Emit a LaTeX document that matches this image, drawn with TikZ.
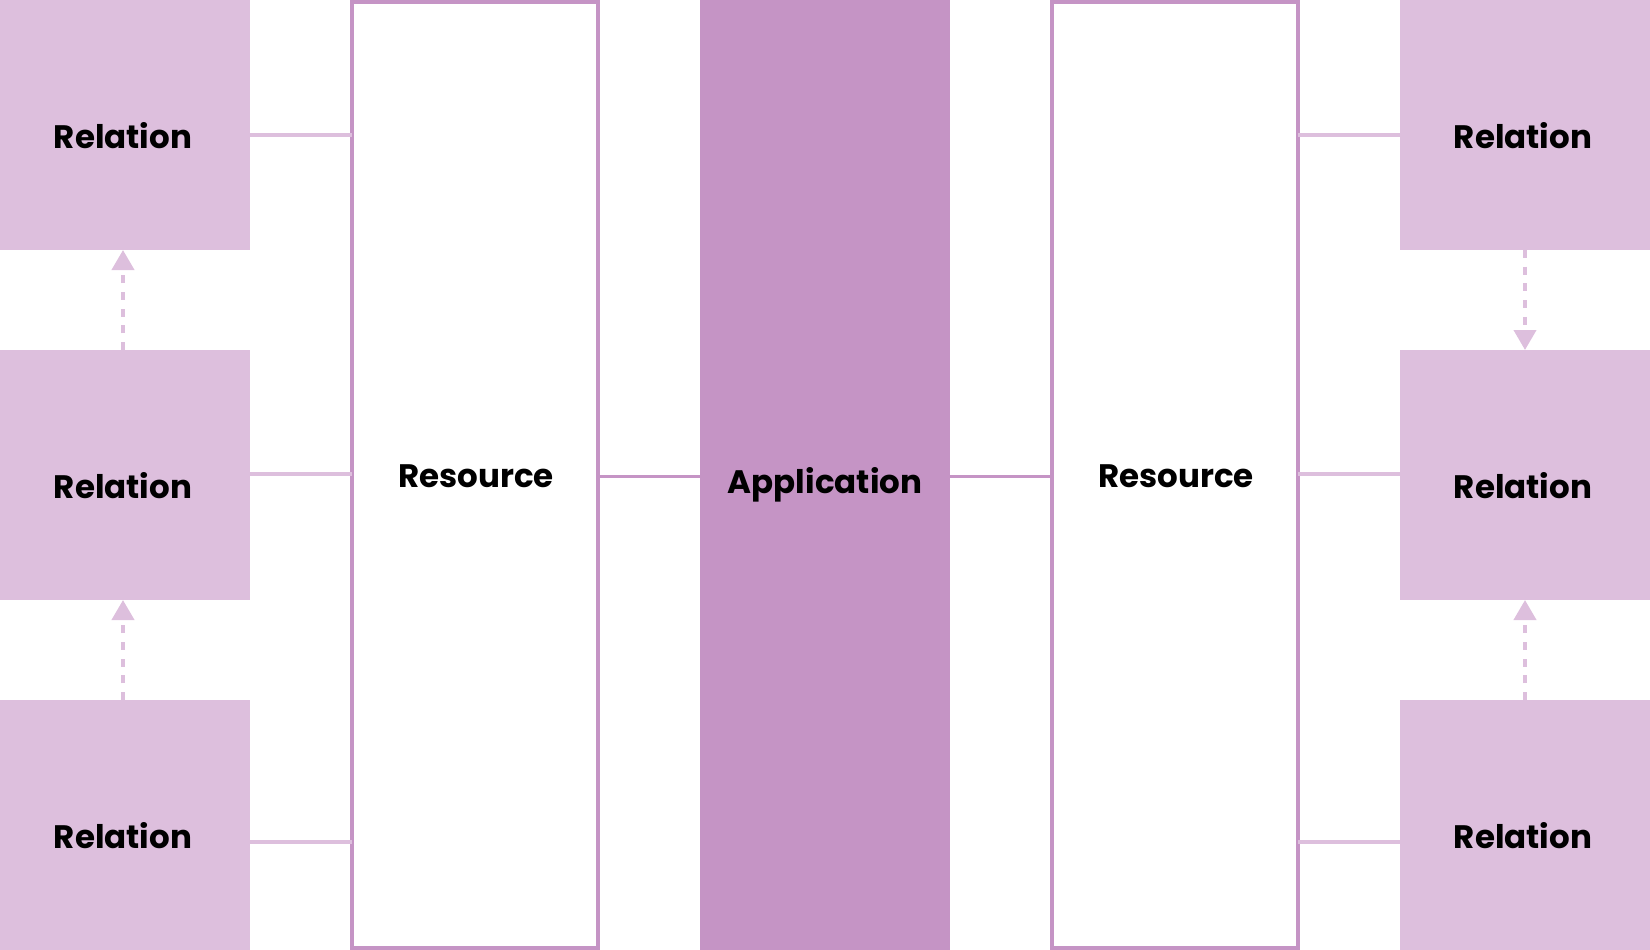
\documentclass[tikz,border=0pt]{standalone}
\usepackage{fontspec}
\setmainfont{Poppins}
\usetikzlibrary{arrows.meta}
\definecolor{relfill}{RGB}{221,191,221}
\definecolor{appfill}{RGB}{197,148,197}
\tikzset{
  relbox/.style={fill=relfill, draw=none, minimum width=250pt, minimum height=250pt, inner sep=0pt, outer sep=0pt},
  resbox/.style={fill=white, draw=appfill, line width=4pt, minimum width=246pt, minimum height=946pt, inner sep=0pt, outer sep=0pt},
  appbox/.style={fill=appfill, draw=none, minimum width=250pt, minimum height=950pt, inner sep=0pt, outer sep=0pt},
  lbl/.style={font=\fontsize{32.5}{38}\selectfont\bfseries, text=black, inner sep=0pt},
  lightconn/.style={draw=relfill, line width=4pt},
  darkconn/.style={draw=appfill, line width=3pt},
  dasharrow/.style={draw=relfill, line width=4pt, dash pattern=on 8pt off 8.7pt, -{Triangle[width=22pt,length=20pt,fill=relfill]}}
}
\begin{document}
\begin{tikzpicture}[x=1pt,y=-1pt]
\useasboundingbox (0,0) rectangle (1650,950);
% relation boxes
\node[relbox] (l1) at (125,125) {};
\node[relbox] (l2) at (125,475) {};
\node[relbox] (l3) at (125,825) {};
\node[relbox] (r1) at (1525,125) {};
\node[relbox] (r2) at (1525,475) {};
\node[relbox] (r3) at (1525,825) {};
% resources and application
\node[resbox] (res1) at (475,475) {};
\node[resbox] (res2) at (1175,475) {};
\node[appbox] (app) at (825,475) {};
% labels
\node[lbl] (tl1) at (123,136) {Relation};
\node[lbl] (tl2) at (123,486) {Relation};
\node[lbl] (tl3) at (123,836) {Relation};
\node[lbl] (tr1) at (1523,136) {Relation};
\node[lbl] (tr2) at (1523,486) {Relation};
\node[lbl] (tr3) at (1523,836) {Relation};
\node[lbl] (tres1) at (476,476) {Resource};
\node[lbl] (tres2) at (1176,476) {Resource};
\node[lbl] (tapp) at (825,485) {Application};
% connectors relation - resource
\draw[lightconn] (l1.east |- 0,134.5) -- (res1.west |- 0,134.5);
\draw[lightconn] (l2.east |- 0,474) -- (res1.west |- 0,474);
\draw[lightconn] (l3.east |- 0,842) -- (res1.west |- 0,842);
\draw[lightconn] (res2.east |- 0,134.5) -- (r1.west |- 0,134.5);
\draw[lightconn] (res2.east |- 0,474) -- (r2.west |- 0,474);
\draw[lightconn] (res2.east |- 0,842) -- (r3.west |- 0,842);
% connectors resource - application
\draw[darkconn] (res1.east |- 0,476.7) -- (app.west |- 0,476.7);
\draw[darkconn] (app.east |- 0,476.7) -- (res2.west |- 0,476.7);
% dashed arrows
\draw[dasharrow] ([xshift=-2pt]l2.north) -- ([xshift=-2pt]l1.south);
\draw[dasharrow] ([xshift=-2pt]l3.north) -- ([xshift=-2pt]l2.south);
\draw[dasharrow] (r1.south) -- (r2.north);
\draw[dasharrow] (r3.north) -- (r2.south);
\end{tikzpicture}
\end{document}
